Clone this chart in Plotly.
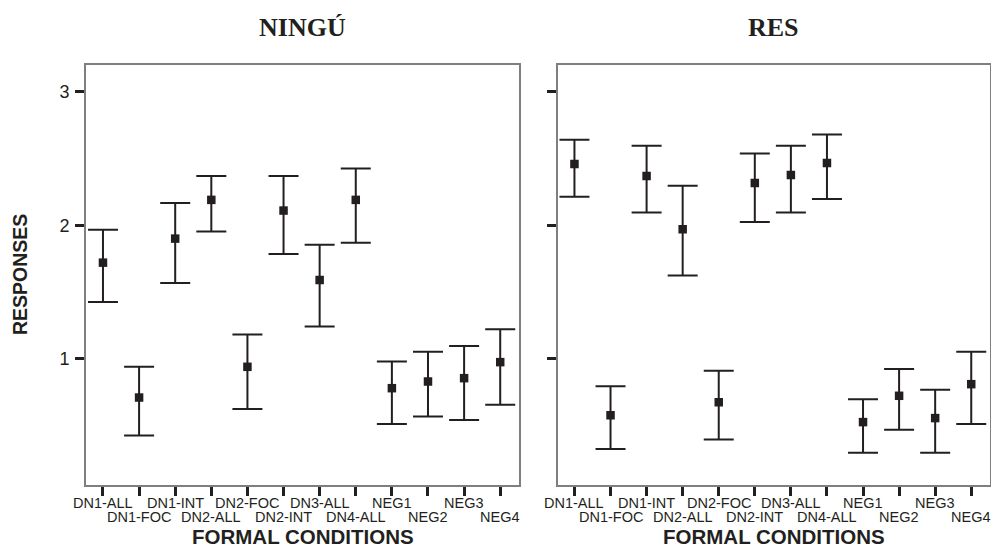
import plotly.graph_objects as go

categories = ["DN1-ALL", "DN1-FOC", "DN1-INT", "DN2-ALL", "DN2-FOC", "DN2-INT",
              "DN3-ALL", "DN4-ALL", "NEG1", "NEG2", "NEG3", "NEG4"]

ningu_mean = [1.72, 0.71, 1.90, 2.19, 0.94, 2.11, 1.59, 2.19, 0.78, 0.83, 0.855, 0.975]
ningu_upper = [1.966, 0.94, 2.166, 2.368, 1.182, 2.368, 1.854, 2.425, 0.98, 1.052, 1.095, 1.222]
ningu_lower = [1.425, 0.426, 1.567, 1.954, 0.625, 1.784, 1.242, 1.869, 0.511, 0.568, 0.541, 0.655]

res_mean = [2.458, 0.578, 2.369, 1.971, 0.675, 2.316, 2.376, 2.466, 0.526, 0.723, 0.556, 0.81]
res_upper = [2.64, 0.795, 2.596, 2.296, 0.91, 2.538, 2.596, 2.68, 0.698, 0.923, 0.768, 1.052]
res_lower = [2.213, 0.324, 2.096, 1.624, 0.396, 2.024, 2.096, 2.196, 0.296, 0.468, 0.296, 0.511]

panel_titles = ["NINGÚ", "RES"]
y_ticks = [1, 2, 3]

INK = "#231f20"
FRAME = "#7f7f7f"
xpos = list(range(len(categories)))

fig = go.Figure()

for i, (m, up, lo) in enumerate([(ningu_mean, ningu_upper, ningu_lower),
                                  (res_mean, res_upper, res_lower)]):
    suffix = "" if i == 0 else "2"
    fig.add_trace(go.Scatter(
        x=xpos, y=m, mode="markers",
        marker=dict(symbol="square", size=8.5, color=INK),
        error_y=dict(type="data", symmetric=False,
                     array=[u - v for u, v in zip(up, m)],
                     arrayminus=[v - l for v, l in zip(m, lo)],
                     thickness=2, width=15, color=INK),
        xaxis="x" + suffix, yaxis="y" + suffix, showlegend=False,
    ))

axis_common = dict(showline=True, mirror=True, linecolor=FRAME, linewidth=2,
                   showgrid=False, zeroline=False, ticks="outside",
                   ticklen=9, tickwidth=3, tickcolor=INK)

x_range = [-0.47, 11.52]
y_range = [0.055, 3.2]
ydom = [1 - 485 / 549, 1 - 65 / 549]
xdom1 = [86 / 991, 519 / 991]
xdom2 = [557.5 / 991, 990 / 991]

fig.update_layout(
    width=991, height=549,
    margin=dict(l=0, r=0, t=0, b=0),
    paper_bgcolor="white", plot_bgcolor="white",
    font=dict(family="Liberation Sans, Arial", color=INK),
    xaxis=dict(domain=xdom1, range=x_range, tickvals=xpos,
               showticklabels=False, anchor="y", **axis_common),
    yaxis=dict(domain=ydom, range=y_range, tickvals=y_ticks,
               ticktext=[str(v) for v in y_ticks], tickfont=dict(size=18, color=INK),
               ticklabelstandoff=2,
               anchor="x", **axis_common),
    xaxis2=dict(domain=xdom2, range=x_range, tickvals=xpos,
                showticklabels=False, anchor="y2", **axis_common),
    yaxis2=dict(domain=ydom, range=y_range, tickvals=y_ticks,
                showticklabels=False, anchor="x2", **axis_common),
)

annotations = []
for xr, yr in [("x", "y"), ("x2", "y2")]:
    for k, lab in enumerate(categories):
        row_y = -0.043 if k % 2 == 0 else -0.076
        annotations.append(dict(
            x=k, xref=xr, y=row_y, yref=yr + " domain",
            text=lab, showarrow=False, xanchor="center", yanchor="middle",
            font=dict(size=14.5, color=INK, family="Liberation Sans, Arial"),
        ))
    annotations.append(dict(
        x=0.5, xref=xr + " domain", y=-0.122, yref=yr + " domain",
        text="<b>FORMAL CONDITIONS</b>", showarrow=False,
        xanchor="center", yanchor="middle",
        font=dict(size=20.5, color=INK, family="Liberation Sans, Arial"),
    ))

for t, xr, yr in zip(panel_titles, ["x", "x2"], ["y", "y2"]):
    annotations.append(dict(
        x=0.5, xref=xr + " domain", y=1 - 27 / 549, yref="paper",
        text="<b>" + t + "</b>", showarrow=False, xanchor="center", yanchor="middle",
        font=dict(size=26, color=INK, family="Liberation Serif, Times New Roman"),
    ))

annotations.append(dict(
    x=20 / 991, xref="paper", y=0.5, yref="y domain",
    text="<b>RESPONSES</b>", textangle=-90, showarrow=False,
    xanchor="center", yanchor="middle",
    font=dict(size=19.5, color=INK, family="Liberation Sans, Arial"),
))

fig.update_layout(annotations=annotations)
fig.write_html("out.html")
